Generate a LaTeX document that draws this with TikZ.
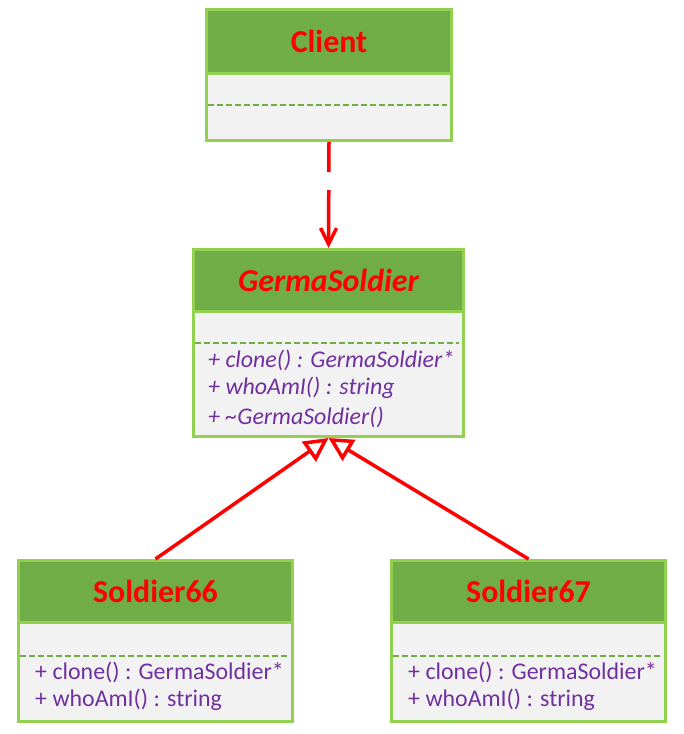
\documentclass[tikz,border=0pt]{standalone}
\usepackage{fontspec}
\setmainfont{Carlito}
\usetikzlibrary{arrows.meta}
\definecolor{hdrgreen}{HTML}{70AD47}
\definecolor{edgegreen}{HTML}{92D050}
\definecolor{bodygray}{HTML}{F2F2F2}
\definecolor{memberpurple}{HTML}{7030A0}
\begin{document}
\begin{tikzpicture}[x=1bp,y=-1bp,
  header/.style={draw=edgegreen, line width=3bp, fill=hdrgreen, anchor=north west, inner sep=0pt, text=red, font=\fontsize{32}{34}\selectfont\bfseries},
  body/.style={draw=edgegreen, line width=3bp, fill=bodygray, anchor=north west, inner sep=0pt},
  sepline/.style={draw=hdrgreen, line width=2bp, dash pattern=on 6bp off 3bp},
  member/.style={anchor=west, text=memberpurple, font=\fontsize{24}{27}\selectfont, inner sep=0pt},
  dep/.style={draw=red, line width=3.5bp, dash pattern=on 30bp off 18bp on 60bp off 10bp, -{Straight Barb[length=16bp,width=16bp]}},
  inh/.style={draw=red, line width=3.5bp, -{Triangle[open,length=24bp,width=24bp]}}]
\useasboundingbox (0,0) rectangle (684,734);

% Client
\node[body, minimum width=245bp, minimum height=67bp] (clientB) at (205,72) {};
\node[header, minimum width=245bp, minimum height=64bp] (clientH) at (205,8) {Client};
\coordinate (cl1) at (208,105);
\coordinate (cl2) at (447,105);
\draw[sepline] (cl1) -- (cl2);

% GermaSoldier
\node[body, minimum width=270bp, minimum height=125bp] (germaB) at (192,310) {};
\node[header, minimum width=270bp, minimum height=62bp, font=\fontsize{32}{34}\selectfont\bfseries\itshape] (germaH) at (192,248) {GermaSoldier};
\coordinate (gl1) at (195,343);
\coordinate (gl2) at (459,343);
\draw[sepline] (gl1) -- (gl2);
\node[member, font=\fontsize{24}{27}\selectfont\itshape] (gm1) at (208,360) {+ clone() : GermaSoldier*};
\node[member, font=\fontsize{24}{27}\selectfont\itshape] (gm2) at (208,388) {+ whoAmI() : string};
\node[member, font=\fontsize{24}{27}\selectfont\itshape] (gm3) at (208,417) {+ \textasciitilde GermaSoldier()};

% Soldier66
\node[body, minimum width=274bp, minimum height=99bp] (s66B) at (17,621) {};
\node[header, minimum width=274bp, minimum height=62bp] (s66H) at (17,559) {Soldier66};
\coordinate (a1) at (20,656);
\coordinate (a2) at (288,656);
\draw[sepline] (a1) -- (a2);
\node[member] (s66m1) at (35,672) {+ clone() : GermaSoldier*};
\node[member] (s66m2) at (35,700) {+ whoAmI() : string};

% Soldier67
\node[body, minimum width=274bp, minimum height=99bp] (s67B) at (390,621) {};
\node[header, minimum width=274bp, minimum height=62bp] (s67H) at (390,559) {Soldier67};
\coordinate (b1) at (393,656);
\coordinate (b2) at (661,656);
\draw[sepline] (b1) -- (b2);
\node[member] (s67m1) at (408,672) {+ clone() : GermaSoldier*};
\node[member] (s67m2) at (408,700) {+ whoAmI() : string};

% connectors
\draw[dep] (clientB.south) -- (germaH.north);
\draw[inh] (s66H.north) -- (germaB.south);
\draw[inh] (s67H.north) -- (germaB.south);
\end{tikzpicture}
\end{document}
